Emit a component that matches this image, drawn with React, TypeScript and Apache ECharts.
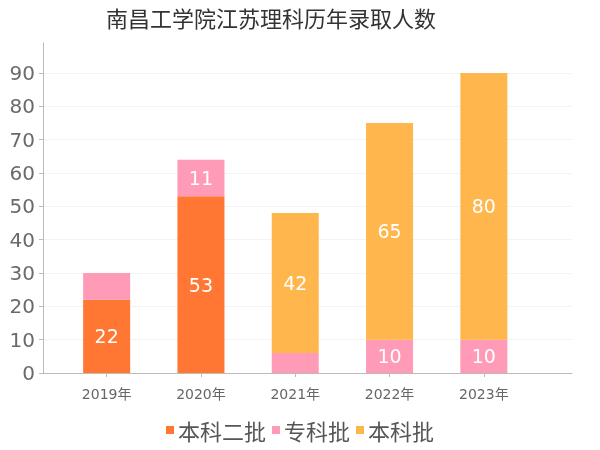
import React, { useEffect, useRef } from "react";
import * as echarts from "echarts";

const categories = ["2019年", "2020年", "2021年", "2022年", "2023年"];
const benke2 = [22, 53, 0, 0, 0];
const zhuanke = [8, 11, 6, 10, 10];
const benke = [0, 0, 42, 65, 80];
const yTicks = [0, 10, 20, 30, 40, 50, 60, 70, 80, 90];
const seriesNames = ["本科二批", "专科批", "本科批"];
const colors = ["#FF7733", "#FF9BB6", "#FFB74D"];

const FONT = "'DejaVu Sans', 'Noto Sans CJK SC', sans-serif";
const CJK = "'Noto Sans CJK SC', sans-serif";

export default function App() {
  const ref = useRef<HTMLDivElement>(null);
  useEffect(() => {
    if (!ref.current) return;
    const chart = echarts.init(ref.current, null, { renderer: "svg" });
    const label = {
      show: true,
      position: "inside",
      color: "#fff",
      fontSize: 19,
      fontFamily: FONT,
      formatter: (p: any) => (p.value >= 10 ? String(p.value) : ""),
    };
    const mk = (name: string, data: number[], i: number) => ({
      name,
      type: "bar",
      stack: "total",
      xAxisIndex: 1,
      yAxisIndex: 1,
      barWidth: 47,
      data: data.map((v) => (v === 0 ? null : v)),
      itemStyle: { color: colors[i] },
      label,
    });
    chart.setOption({
      animation: false,
      textStyle: { fontFamily: FONT },
      title: {
        text: "南昌工学院江苏理科历年录取人数",
        left: 101,
        top: 1,
        textStyle: { fontSize: 22, fontWeight: "normal", color: "#333", fontFamily: CJK },
      },
      legend: {
        bottom: 4,
        left: "center",
        itemWidth: 8,
        itemHeight: 8,
        itemGap: 6,
        icon: "rect",
        data: seriesNames,
        textStyle: { fontSize: 22, color: "#555", fontFamily: CJK, padding: [0, 0, 0, -1] },
      },
      grid: [
        { left: 43, right: 28, top: 43, bottom: 77 },
        { left: 59.5, width: 471.5, top: 43, bottom: 77 },
      ],
      xAxis: [
        {
          type: "value",
          gridIndex: 0,
          min: 0,
          max: 1,
          offset: 5,
          axisLine: { show: true, lineStyle: { color: "#bbb" } },
          axisTick: { show: false },
          axisLabel: { show: false },
          splitLine: { show: false },
        },
        {
          type: "category",
          gridIndex: 1,
          data: categories,
          offset: 5,
          axisLine: { show: false },
          axisTick: { show: true, alignWithLabel: true, length: 4, lineStyle: { color: "#bbb" } },
          axisLabel: { fontSize: 14, color: "#666", margin: 9, fontFamily: FONT },
        },
      ],
      yAxis: [
        {
          type: "value",
          gridIndex: 0,
          min: 0,
          max: 99,
          interval: 10,
          axisLine: { show: true, lineStyle: { color: "#bbb" } },
          axisTick: { show: true, length: 4, lineStyle: { color: "#bbb" }, customValues: yTicks },
          axisLabel: { fontSize: 20, color: "#6a6a6a", margin: 8, fontFamily: FONT, customValues: yTicks },
          splitLine: { show: true, lineStyle: { color: "#f3f3f3" } },
        },
        {
          type: "value",
          gridIndex: 1,
          min: 0,
          max: 99,
          show: false,
          splitLine: { show: false },
        },
      ],
      series: [mk(seriesNames[0], benke2, 0), mk(seriesNames[1], zhuanke, 1), mk(seriesNames[2], benke, 2)],
    });
    return () => chart.dispose();
  }, []);
  return <div ref={ref} style={{ position: "fixed", left: 0, top: 0, width: 600, height: 450 }} />;
}
